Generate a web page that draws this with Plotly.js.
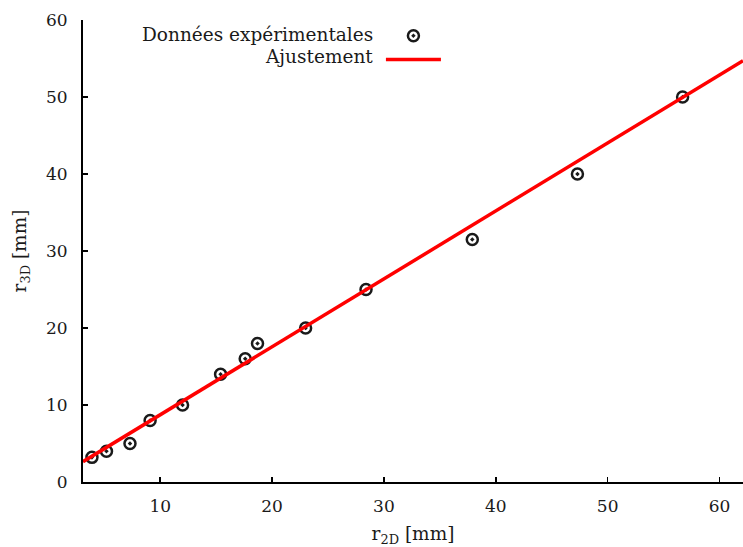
<!DOCTYPE html>
<html>
<head>
<meta charset="utf-8">
<script src="https://cdn.plot.ly/plotly-3.0.1.min.js"></script>
<style>html,body{margin:0;padding:0;background:#fff;}#chart{width:743px;height:547px;}</style>
</head>
<body>
<div id="chart"></div>
<script>
// Experimental data: r2D [mm] vs r3D [mm]
const r2D = [3.9, 5.2, 7.3, 9.1, 12.0, 15.4, 17.6, 18.7, 23.0, 28.4, 37.9, 47.3, 56.7];
const r3D = [3.2, 4.0, 5.0, 8.0, 10.0, 14.0, 16.0, 18.0, 20.0, 25.0, 31.5, 40.0, 50.0];
// Fitted line endpoints
const fitX = [3.1, 62.1];
const fitY = [2.64, 54.7];
const xTicks = [10, 20, 30, 40, 50, 60];
const yTicks = [0, 10, 20, 30, 40, 50, 60];
const labelData = "Données expérimentales";
const labelFit = "Ajustement";

const FONT = "DejaVu Serif, serif";
const TXT = "#1a1a1a";

const traces = [
  {
    x: r2D, y: r3D, mode: "markers", type: "scatter", name: "",
    marker: {symbol: "circle-dot", size: 11, color: "rgba(0,0,0,0)",
             line: {color: "#1a1a1a", width: 2.5}},
    showlegend: true
  },
  {
    x: fitX, y: fitY, mode: "lines", type: "scatter", name: "",
    line: {color: "#ff0000", width: 3.5},
    showlegend: true
  }
];

const layout = {
  width: 743, height: 547,
  margin: {l: 83, r: 0, t: 20, b: 65, pad: 0},
  paper_bgcolor: "#fff", plot_bgcolor: "#fff",
  font: {family: FONT, size: 16, color: TXT},
  showlegend: true,
  legend: {x: 0.4514, y: 1.0027, xanchor: "left", yanchor: "top",
           bgcolor: "rgba(0,0,0,0)", font: {size: 16}, itemwidth: 55,
           tracegroupgap: 0},
  xaxis: {
    range: [3.1, 62.1], tickvals: xTicks, ticktext: xTicks.map(String),
    showgrid: false, zeroline: false, showline: true, linecolor: "#000", linewidth: 2,
    ticks: "inside", ticklen: 5, tickwidth: 1.5, tickcolor: "#000",
    ticklabelstandoff: 8,
    tickfont: {family: FONT, size: 17, color: TXT},
    title: {text: "r<sub>2D</sub> [mm]", font: {family: FONT, size: 18.5, color: TXT}, standoff: 14}
  },
  yaxis: {
    range: [0, 60], tickvals: yTicks, ticktext: yTicks.map(String),
    showgrid: false, zeroline: false, showline: true, linecolor: "#000", linewidth: 2,
    ticks: "inside", ticklen: 5, tickwidth: 1.5, tickcolor: "#000",
    ticklabelstandoff: 10,
    tickfont: {family: FONT, size: 17, color: TXT},
    title: {text: "r<sub>3D</sub> [mm]", font: {family: FONT, size: 18.5, color: TXT}, standoff: 14}
  },
  annotations: [
    {xref: "paper", yref: "paper", x: 0.4425, y: 0.968, xanchor: "right", yanchor: "middle",
     text: labelData, showarrow: false, font: {family: FONT, size: 18.5, color: TXT}},
    {xref: "paper", yref: "paper", x: 0.4425, y: 0.922, xanchor: "right", yanchor: "middle",
     text: labelFit, showarrow: false, font: {family: FONT, size: 18.5, color: TXT}}
  ]
};

Plotly.newPlot("chart", traces, layout, {staticPlot: true, displayModeBar: false});
</script>
</body>
</html>
